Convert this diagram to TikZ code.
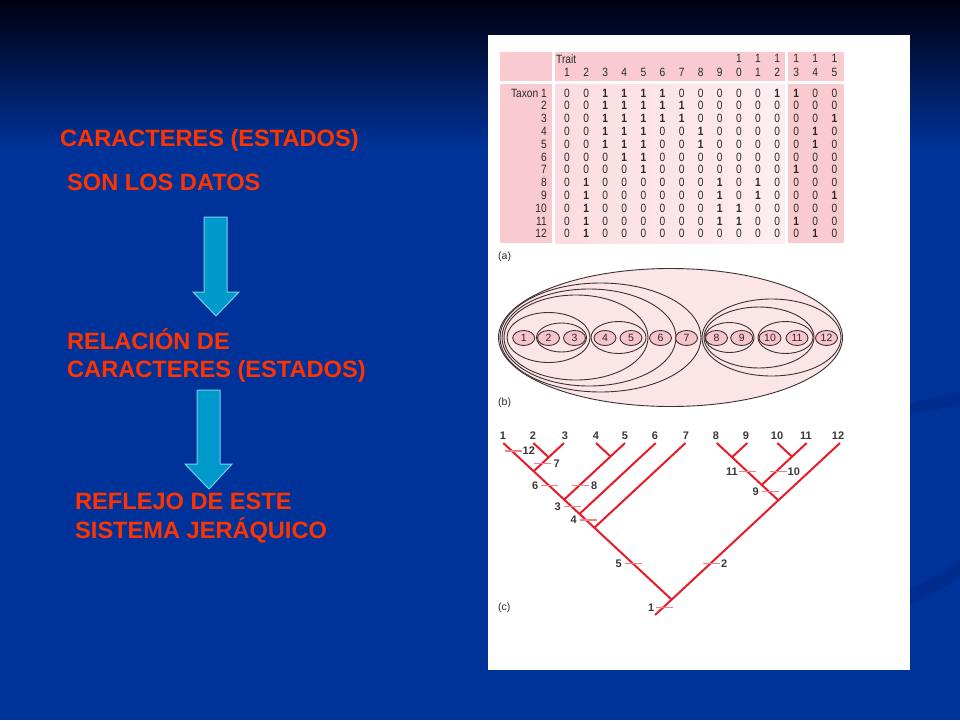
\documentclass[tikz,border=0pt]{standalone}
\usepackage{fontspec}
\setmainfont{Liberation Sans}
\newfontfamily\tabfont[FakeStretch=0.85]{Liberation Sans}
\usetikzlibrary{calc,shapes.geometric}
\definecolor{bgblue}{RGB}{0,51,153}
\definecolor{bgtop}{RGB}{0,0,16}
\definecolor{bgdark}{RGB}{0,40,130}
\definecolor{txtred}{RGB}{255,51,0}
\definecolor{arrfill}{RGB}{0,153,204}
\definecolor{arredge}{RGB}{120,205,235}
\definecolor{pinkA}{RGB}{249,203,208}
\definecolor{pinkB}{RGB}{251,220,224}
\definecolor{pinkC}{RGB}{253,238,240}
\definecolor{ellfill}{RGB}{252,229,231}
\definecolor{smallfill}{RGB}{247,196,203}
\definecolor{ellline}{RGB}{60,50,52}
\definecolor{treered}{RGB}{232,28,40}
\definecolor{tickred}{RGB}{242,128,140}
\definecolor{inkgray}{RGB}{45,40,40}
\definecolor{labgray}{RGB}{60,55,55}
\begin{document}
\begin{tikzpicture}[x=1pt,y=-1pt,
  title/.style={font=\bfseries\fontsize{23.6}{28}\selectfont, text=txtred, inner sep=0, anchor=base west},
  blockarrow/.style={fill=arrfill, draw=arredge, line width=1pt, line join=miter},
  cell/.style={font=\tabfont\fontsize{12}{14}\selectfont, text=inkgray, inner sep=0},
  panlab/.style={font=\fontsize{10.5}{12}\selectfont, text=inkgray, inner sep=0},
  ell/.style={draw=ellline, line width=0.9pt},
  smallell/.style={ellipse, draw=ellline, line width=0.9pt, fill=smallfill, minimum width=22pt, minimum height=15pt, inner sep=0, font=\fontsize{10.5}{12}\selectfont, text=inkgray},
  branch/.style={draw=treered, line width=2pt},
  tickmark/.style={draw=tickred, line width=1.4pt},
  treelab/.style={font=\bfseries\fontsize{11}{13}\selectfont, text=labgray, inner sep=0}
]
\useasboundingbox (0,0) rectangle (960,720);
% background
\fill[bgblue] (0,0) rectangle (960,720);
\shade[top color=bgtop, bottom color=bgblue] (0,0) rectangle (960,150);
\fill[bgdark, opacity=0.5] (860,420) .. controls (900,405) and (930,398) .. (960,392) -- (960,405) .. controls (930,410) and (900,416) .. (860,428) -- cycle;
\fill[bgdark, opacity=0.5] (860,612) .. controls (900,595) and (930,580) .. (960,560) -- (960,578) .. controls (930,595) and (900,610) .. (860,625) -- cycle;

% left texts
\node[title] (t1) at (60,146) {CARACTERES (ESTADOS)};
\node[title] (t2) at (67,190) {SON LOS DATOS};
\node[title] (t3a) at (67,349) {RELACIÓN DE};
\node[title] (t3b) at (67,377) {CARACTERES (ESTADOS)};
\node[title] (t4a) at (75,509) {REFLEJO DE ESTE};
\node[title] (t4b) at (75,538) {SISTEMA JERÁQUICO};

% block arrows
\draw[blockarrow] (204,217) -- (227,217) -- (227,292) -- (239,292) -- (216,316) -- (193,292) -- (204,292) -- cycle;
\draw[blockarrow] (197,390) -- (220,390) -- (220,464) -- (232,464) -- (209,489) -- (185,464) -- (197,464) -- cycle;

% white panel
\fill[white] (488,35) rectangle (910,670);

% (a) table
\fill[pinkA] (500,52) rectangle (552,81);
\fill[pinkA] (555,52) rectangle (785,81);
\fill[pinkA] (788,52) rectangle (844,81);
\fill[pinkA] (500,84) rectangle (552,243);
\shade[left color=pinkB, right color=pinkC] (555,84) rectangle (785,243);
\fill[pinkA] (788,84) rectangle (844,243);

\node[cell, anchor=west] (trait) at (556,59) {Trait};
\foreach \c in {10,...,15} \node[cell] (g-\c) at ({567+(\c-1)*19.1},58) {1};
\foreach \h [count=\c] in {1,2,3,4,5,6,7,8,9,0,1,2,3,4,5}
  \node[cell] (h-\c) at ({567+(\c-1)*19.1},72) {\h};
\node[cell, anchor=east] (r1) at (547,93) {Taxon 1};
\foreach \r in {2,...,12}
  \node[cell, anchor=east] (r\r) at (547,{93+(\r-1)*12.8}) {\r};
\foreach \rowvals [count=\r] in {
 {0,0,1,1,1,1,0,0,0,0,0,1,1,0,0},
 {0,0,1,1,1,1,1,0,0,0,0,0,0,0,0},
 {0,0,1,1,1,1,1,0,0,0,0,0,0,0,1},
 {0,0,1,1,1,0,0,1,0,0,0,0,0,1,0},
 {0,0,1,1,1,0,0,1,0,0,0,0,0,1,0},
 {0,0,0,1,1,0,0,0,0,0,0,0,0,0,0},
 {0,0,0,0,1,0,0,0,0,0,0,0,1,0,0},
 {0,1,0,0,0,0,0,0,1,0,1,0,0,0,0},
 {0,1,0,0,0,0,0,0,1,0,1,0,0,0,1},
 {0,1,0,0,0,0,0,0,1,1,0,0,0,0,0},
 {0,1,0,0,0,0,0,0,1,1,0,0,1,0,0},
 {0,1,0,0,0,0,0,0,0,0,0,0,0,1,0}}{
  \foreach \v [count=\c] in \rowvals {
    \node[cell] (d-\r-\c) at ({567+(\c-1)*19.1},{93+(\r-1)*12.8}) {\ifnum\v=1 \bfseries\fi\v};
  }
}
\node[panlab, anchor=west] (la) at (498,257) {(a)};

% (b) nested sets
\fill[ellfill] (670.5,337.5) ellipse [x radius=172, y radius=69];
\draw[ell] (670.5,337.5) ellipse [x radius=172, y radius=69];
\draw[ell] (600.5,337.5) ellipse [x radius=100.5, y radius=54.5];
\draw[ell] (589,337.5) ellipse [x radius=87, y radius=48.5];
\draw[ell] (576,337.5) ellipse [x radius=72, y radius=42.5];
\draw[ell] (548.5,337.5) ellipse [x radius=41.5, y radius=25];
\draw[ell] (561.5,337.5) ellipse [x radius=25, y radius=14.5];
\draw[ell] (618.5,337.5) ellipse [x radius=27.5, y radius=16];
\draw[ell] (771.5,337.5) ellipse [x radius=69.5, y radius=38.5];
\draw[ell] (759,337.5) ellipse [x radius=55, y radius=30.5];
\draw[ell] (729.5,337.5) ellipse [x radius=24.5, y radius=15];
\draw[ell] (785.5,337.5) ellipse [x radius=27.5, y radius=16];
\foreach \n/\x in {1/523.7,2/548.5,3/574.5,4/605,5/631,6/660.5,7/686.5,8/716.5,9/741.7,10/770,11/797,12/826.5}
  \node[smallell] (c\n) at (\x,338) {\n};
\node[panlab, anchor=west] (lb) at (498,403) {(b)};

% (c) cladogram
\coordinate (p1) at (503.3,443);
\coordinate (p2) at (533.3,443);
\coordinate (p3) at (564,443);
\coordinate (p4) at (596,443);
\coordinate (p5) at (625,443);
\coordinate (p6) at (655.7,443);
\coordinate (p7) at (685.5,443);
\coordinate (p8) at (716.7,443);
\coordinate (p9) at (747.3,443);
\coordinate (p10) at (777.3,443);
\coordinate (p11) at (806.7,443);
\coordinate (p12) at (840,443);
\coordinate (n23) at (548.65,457.3);
\coordinate (n123) at (533.65,471.2);
\coordinate (n45) at (610.5,456.5);
\coordinate (n15) at (564.15,499.6);
\coordinate (n16) at (579.5,513.9);
\coordinate (n17) at (594.4,527.7);
\coordinate (root) at (671.65,599.6);
\coordinate (stem) at (655,615);
\coordinate (n89) at (732,457.2);
\coordinate (n1011) at (792,456.7);
\coordinate (n811) at (761.7,484.9);
\coordinate (n812) at (778.35,500.3);

\draw[branch] (p1) -- (root);
\draw[branch] (p2) -- (n23);
\draw[branch] (p3) -- (n23) -- (n123);
\draw[branch] (p4) -- (n45);
\draw[branch] (p5) -- (n45) -- (n15);
\draw[branch] (p6) -- (n16);
\draw[branch] (p7) -- (n17);
\draw[branch] (p12) -- (n812) -- (root) -- (stem);
\draw[branch] (p8) -- (n89) -- (n811) -- (n812);
\draw[branch] (p9) -- (n89);
\draw[branch] (p11) -- (n1011) -- (n811);
\draw[branch] (p10) -- (n1011);

\foreach \n/\x in {1/503,2/533,3/565,4/596,5/625,6/655,7/686,8/716,9/746,10/777,11/806,12/838}
  \node[treelab] (tl\n) at (\x,436) {\n};

% character-change ticks
\foreach \k/\x/\y in {12/513/451, 7/542.5/463.3, 6/549.5/485.7, 8/580/485.7, 3/572/506.7, 4/588/520, 5/633/563.3, 2/711/563.3, 1/664/607.3, 11/747.5/471.7, 10/778/471.7, 9/770/491.7}{
  \coordinate (k\k) at (\x,\y);
  \draw[tickmark] ([xshift=-8.5pt]k\k) -- ([xshift=8.5pt]k\k);
}
\node[treelab, anchor=west] (m12) at ([xshift=9.5pt]k12) {12};
\node[treelab, anchor=west] (m7) at ([xshift=11pt]k7) {7};
\node[treelab, anchor=east] (m6) at ([xshift=-11pt]k6) {6};
\node[treelab, anchor=west] (m8) at ([xshift=11pt]k8) {8};
\node[treelab, anchor=east] (m3) at ([xshift=-11pt]k3) {3};
\node[treelab, anchor=east] (m4) at ([xshift=-11pt]k4) {4};
\node[treelab, anchor=east] (m5) at ([xshift=-11pt]k5) {5};
\node[treelab, anchor=west] (m2) at ([xshift=10pt]k2) {2};
\node[treelab, anchor=east] (m1) at ([xshift=-9.5pt]k1) {1};
\node[treelab, anchor=east] (m11) at ([xshift=-9.5pt]k11) {11};
\node[treelab, anchor=west] (m10) at ([xshift=9.5pt]k10) {10};
\node[treelab, anchor=east] (m9) at ([xshift=-11pt]k9) {9};
\node[panlab, anchor=west] (lc) at (498,608) {(c)};
\end{tikzpicture}
\end{document}
